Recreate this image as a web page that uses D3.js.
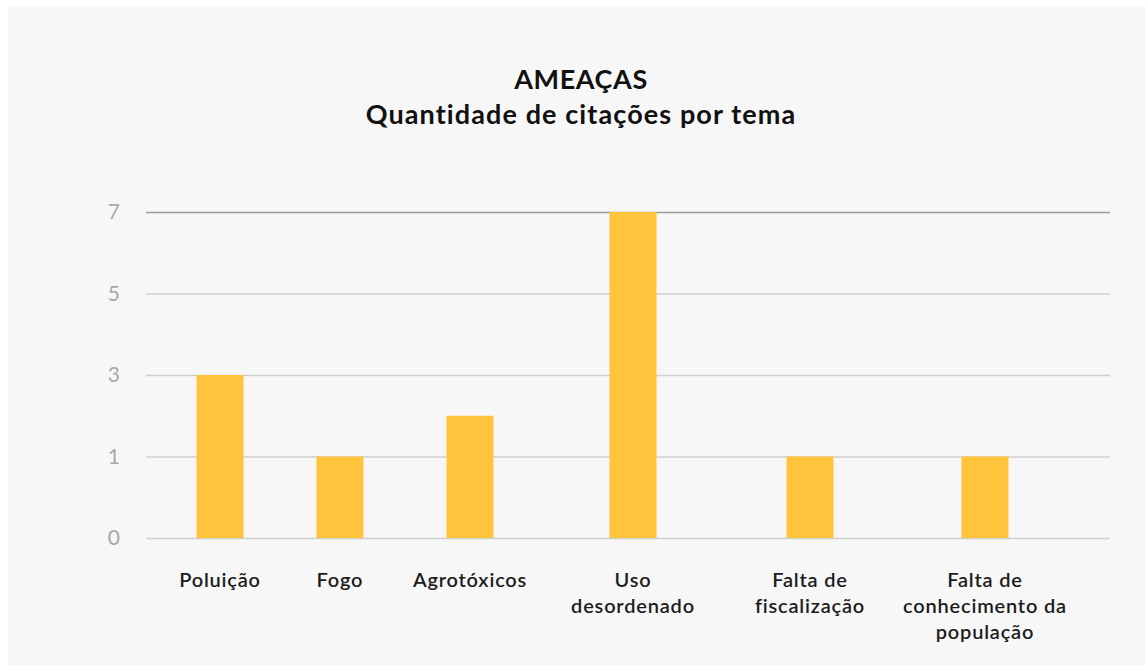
<!DOCTYPE html>
<html>
<head>
    <title>AMEAÇAS - Quantidade de citações por tema</title>
    <script src="https://cdnjs.cloudflare.com/ajax/libs/d3/7.8.5/d3.min.js"></script>
    <style>
        body {
            margin: 0;
            background-color: #ffffff;
            font-family: Lato, "Open Sans", Arial, sans-serif;
        }
        svg {
            display: block;
        }
    </style>
</head>
<body>
    <div id="chart"></div>

    <script>
        // Data
        const categories = [
            "Poluição",
            "Fogo",
            "Agrotóxicos",
            "Uso desordenado",
            "Falta de fiscalização",
            "Falta de conhecimento da população"
        ];
        const values = [3, 1, 2, 7, 1, 1];
        const yTicks = [0, 1, 3, 5, 7];
        // label lines as they wrap in the original
        const labelLines = [
            ["Poluição"],
            ["Fogo"],
            ["Agrotóxicos"],
            ["Uso", "desordenado"],
            ["Falta de", "fiscalização"],
            ["Falta de", "conhecimento da", "população"]
        ];

        const width = 1145;
        const height = 666;
        const plot = {left: 146, right: 1110, top: 212, bottom: 538};

        const svg = d3.select("#chart")
            .append("svg")
            .attr("width", width)
            .attr("height", height);

        // light grey card
        svg.append("rect")
            .attr("x", 8)
            .attr("y", 6)
            .attr("width", width - 8)
            .attr("height", 659)
            .attr("fill", "#f7f7f7");

        // x: slot centres as fractions of the plot width (uneven in the original)
        const slotFractions = [0.0768, 0.2012, 0.3361, 0.5052, 0.6888, 0.8703];
        const x = d3.scaleOrdinal()
            .domain(categories)
            .range(slotFractions.map(f => plot.left + f * (plot.right - plot.left)));
        const barWidth = 47;

        // y: ticks are evenly spaced, so the scale is piecewise linear
        const step = (plot.bottom - plot.top) / (yTicks.length - 1);
        const y = d3.scaleLinear()
            .domain(yTicks)
            .range(yTicks.map((d, i) => plot.bottom - i * step));

        // gridlines + tick labels
        const yAxis = d3.axisLeft(y)
            .tickValues(yTicks)
            .tickSize(-(plot.right - plot.left))
            .tickPadding(26)
            .tickFormat(d3.format("d"));

        const gy = svg.append("g")
            .attr("transform", `translate(${plot.left},0)`)
            .call(yAxis);
        gy.select(".domain").remove();
        gy.selectAll(".tick line")
            .attr("stroke", d => d === d3.max(yTicks) ? "#9a9a9a" : "#cfcfcf")
            .attr("stroke-width", 1.6);
        gy.selectAll(".tick text")
            .attr("fill", "#a8a8a8")
            .attr("font-size", 21)
            .attr("font-weight", 400)
            .attr("font-family", "Lato, sans-serif");

        // bars
        svg.append("g")
            .selectAll("rect")
            .data(values)
            .join("rect")
            .attr("x", (d, i) => x(categories[i]) - barWidth / 2)
            .attr("y", d => y(d))
            .attr("width", barWidth)
            .attr("height", d => y(0) - y(d))
            .attr("fill", "#ffc43b");

        // category labels
        const labels = svg.append("g")
            .attr("font-size", 20)
            .attr("font-weight", 600)
            .attr("letter-spacing", 0.8)
            .attr("fill", "#1c1c1c")
            .attr("text-anchor", "middle");
        labelLines.forEach((lines, i) => {
            const t = labels.append("text")
                .attr("x", x(categories[i]))
                .attr("y", 587);
            lines.forEach((line, j) => {
                t.append("tspan")
                    .attr("x", x(categories[i]))
                    .attr("dy", j === 0 ? 0 : 26)
                    .text(line);
            });
        });

        // title
        const title = svg.append("text")
            .attr("x", 581)
            .attr("y", 89)
            .attr("text-anchor", "middle")
            .attr("font-size", 27)
            .attr("font-weight", 700)
            .attr("fill", "#111");
        title.append("tspan").attr("x", 581).attr("letter-spacing", 0.6).text("AMEAÇAS");
        title.append("tspan").attr("x", 581).attr("dy", 35).attr("letter-spacing", 1.1)
            .text("Quantidade de citações por tema");
    </script>
</body>
</html>
